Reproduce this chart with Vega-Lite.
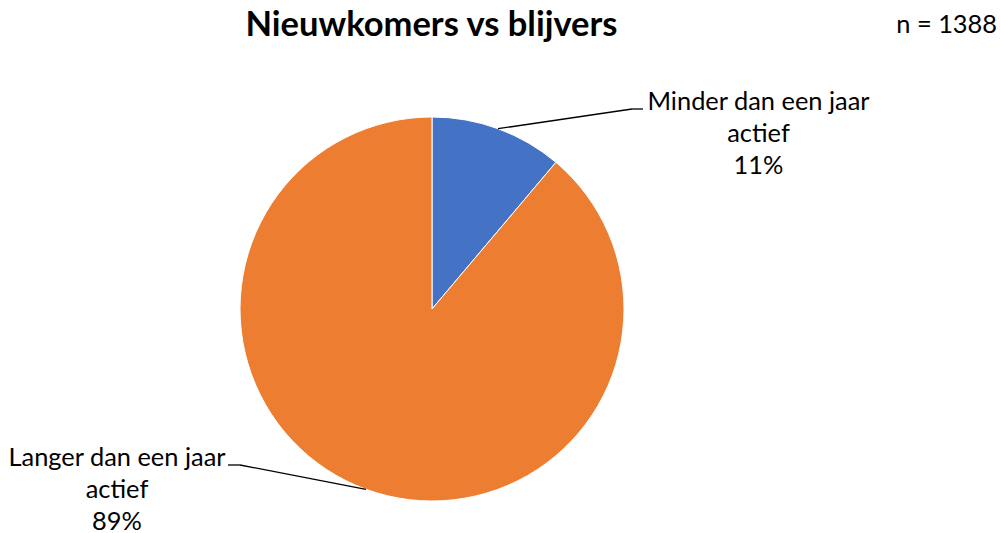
{
  "$schema": "https://vega.github.io/schema/vega-lite/v6.json",
  "width": 1001,
  "height": 533,
  "autosize": {"type": "none"},
  "padding": 0,
  "background": "white",
  "config": {"view": {"stroke": null}, "font": "Lato"},
  "title": {
    "text": "Nieuwkomers vs blijvers",
    "font": "Lato",
    "fontSize": 34.5,
    "fontWeight": "bold",
    "color": "#000000",
    "anchor": "middle",
    "frame": "group",
    "dx": -69,
    "dy": 70,
    "baseline": "alphabetic",
    "offset": 0
  },
  "data": {
    "values": [
      {"category": "Minder dan een jaar actief", "count": 155, "order": 1},
      {"category": "Langer dan een jaar actief", "count": 1233, "order": 2}
    ]
  },
  "transform": [
    {"joinaggregate": [{"op": "sum", "field": "count", "as": "total"}]},
    {"window": [{"op": "sum", "field": "count", "as": "cum"}], "sort": [{"field": "order"}], "frame": [null, 0]},
    {"calculate": "(datum.cum - datum.count / 2) / datum.total * 2 * PI", "as": "mid"},
    {"calculate": "sin(datum.mid)", "as": "ex"},
    {"calculate": "cos(datum.mid)", "as": "ey"},
    {"calculate": "datum.ex > 0 ? 1.0417 : -1.0", "as": "kx"},
    {"calculate": "datum.ex > 0 ? 1.0417 : -0.8125", "as": "ky"},
    {"calculate": "datum.ex > 0 ? 1.099 : -1.0625", "as": "hx"},
    {"calculate": "datum.ex > 0 ? 1.7005 : -1.6406", "as": "lx"},
    {"calculate": "datum.ex > 0 ? 1.0365 : -0.8177", "as": "ly"},
    {"calculate": "replace(datum.category, ' actief', '|actief') + '|' + round(datum.count / datum.total * 100) + '%'", "as": "label"}
  ],
  "layer": [
    {
      "mark": {"type": "arc", "radius": 192, "stroke": "white", "strokeWidth": 1},
      "encoding": {
        "theta": {"field": "count", "type": "quantitative", "stack": true},
        "order": {"field": "order", "type": "quantitative"},
        "color": {
          "field": "category",
          "type": "nominal",
          "scale": {"domain": ["Minder dan een jaar actief", "Langer dan een jaar actief"], "range": ["#4472C4", "#ED7D31"]},
          "legend": null
        },
        "x": {"datum": 0, "type": "quantitative", "scale": {"domain": [-2.25, 2.9635], "nice": false, "zero": false}, "axis": null},
        "y": {"datum": 0, "type": "quantitative", "scale": {"domain": [-1.1667, 1.6094], "nice": false, "zero": false}, "axis": null}
      }
    },
    {
      "mark": {"type": "rule", "color": "#000000", "strokeWidth": 1.3},
      "encoding": {
        "x": {"field": "ex", "type": "quantitative"},
        "y": {"field": "ey", "type": "quantitative"},
        "x2": {"field": "kx"},
        "y2": {"field": "ky"}
      }
    },
    {
      "mark": {"type": "rule", "color": "#000000", "strokeWidth": 1.3},
      "encoding": {
        "x": {"field": "kx", "type": "quantitative"},
        "y": {"field": "ky", "type": "quantitative"},
        "x2": {"field": "hx"},
        "y2": {"field": "ky"}
      }
    },
    {
      "mark": {"type": "text", "font": "Lato", "fontSize": 25.4, "color": "#000000", "align": "center", "baseline": "alphabetic", "lineBreak": "|", "lineHeight": 32},
      "encoding": {
        "x": {"field": "lx", "type": "quantitative"},
        "y": {"field": "ly", "type": "quantitative"},
        "text": {"field": "label"}
      }
    },
    {
      "transform": [{"aggregate": [{"op": "sum", "field": "count", "as": "n"}]}, {"calculate": "'n = ' + datum.n", "as": "ntext"}],
      "mark": {"type": "text", "font": "Lato", "fontSize": 25.4, "color": "#000000", "align": "right", "baseline": "alphabetic"},
      "encoding": {
        "x": {"datum": 2.943, "type": "quantitative"},
        "y": {"datum": 1.4375, "type": "quantitative"},
        "text": {"field": "ntext"}
      }
    }
  ]
}
